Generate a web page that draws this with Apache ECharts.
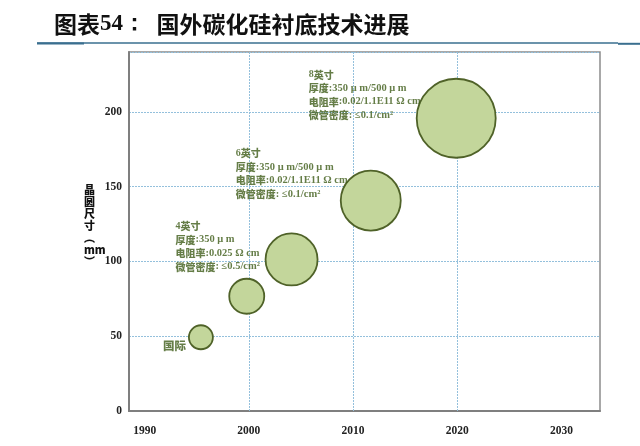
<!DOCTYPE html>
<html>
<head>
<meta charset="utf-8">
<script src="https://cdn.jsdelivr.net/npm/echarts@6/dist/echarts.min.js"></script>
<style>
  html, body { margin: 0; padding: 0; background: #fff; }
  #main { width: 640px; height: 446px; }
</style>
</head>
<body>
<div id="main"></div>
<script>
// 气泡：年份 / 晶圆尺寸(mm) / 气泡直径
var bubbleYears = [1995.4, 1999.8, 2004.1, 2011.7, 2019.9];
var bubbleSizes = [49.3, 76.7, 101.3, 140.7, 195.7];
var bubbleDiam = [24, 35, 52, 60, 79];

var xLabels = [1990, 2000, 2010, 2020, 2030];
var xGridYears = [2000, 2010, 2020];

// 注释文字（年份, 尺寸, 行）
var noteYears = [1993.0, 1998.8, 2005.8];
var noteSizes = [127.7, 176.3, 229];
var noteTitles = ['4英寸', '6英寸', '8英寸'];
var noteThick = [':350 μ m', ':350 μ m/500 μ m', ':350 μ m/500 μ m'];
var noteRes = [':0.025 Ω cm', ':0.02/1.1E11 Ω cm', ':0.02/1.1E11 Ω cm'];
var noteMicro = [': ≤0.5/cm²', ': ≤0.1/cm²', ': ≤0.1/cm²'];

var intlLabel = { year: 1991.8, size: 43.7, text: '国际' };

var GREEN = '#3f5c19';
var GRID_BLUE = '#94c0dc';
var SERIF = '"Liberation Serif", "DejaVu Serif", serif';
var CJK = '"Noto Sans CJK SC", sans-serif';

var bubbleData = [];
for (var i = 0; i < bubbleYears.length; i++) {
	bubbleData.push([bubbleYears[i], bubbleSizes[i], bubbleDiam[i]]);
}

var noteData = [];
for (var j = 0; j < noteYears.length; j++) {
	noteData.push({
		value: [noteYears[j], noteSizes[j]],
		label: {
			formatter: '{t|' + noteTitles[j].charAt(0) + '}{b|' + noteTitles[j].slice(1) + '}\n' +
				'{b|厚度}{v|' + noteThick[j] + '}\n' +
				'{b|电阻率}{v|' + noteRes[j] + '}\n' +
				'{b|微管密度}{v|' + noteMicro[j] + '}'
		}
	});
}

var richStyle = {
	t: { fontFamily: SERIF, fontSize: 10, fontWeight: 'bold', color: GREEN, lineHeight: 13.5 },
	b: { fontFamily: CJK, fontSize: 10, fontWeight: 900, color: GREEN, lineHeight: 13.5 },
	v: { fontFamily: SERIF, fontSize: 10.5, fontWeight: 'bold', color: GREEN, lineHeight: 13.5 }
};

var chart = echarts.init(document.getElementById('main'));

var option = {
	backgroundColor: '#fff',
	animation: false,
	grid: {
		left: 129, right: 40, top: 52, bottom: 35,
		show: true, borderColor: '#8c8c8c', borderWidth: 1.5
	},
	xAxis: {
		type: 'value',
		min: 1988.5,
		max: 2033.7,
		axisLine: { show: true, onZero: false, lineStyle: { color: '#7f7f7f', width: 2 } },
		axisTick: { show: false },
		splitLine: { show: false },
		axisLabel: {
			customValues: xLabels,
			formatter: function (v) { return String(v); },
			margin: 14,
			fontFamily: SERIF, fontWeight: 'bold', fontSize: 11.5, color: '#222'
		}
	},
	yAxis: {
		type: 'value',
		min: 0,
		max: 240,
		interval: 50,
		axisLine: { show: true, lineStyle: { color: '#7f7f7f', width: 2 } },
		axisTick: { show: false },
		axisLabel: {
			margin: 7,
			fontFamily: SERIF, fontWeight: 'bold', fontSize: 11.5, color: '#222',
			formatter: function (v) { return v > 200 ? '' : v; }
		},
		splitLine: { show: true, lineStyle: { color: GRID_BLUE, type: [2, 1], width: 1 } }
	},
	graphic: [
		{
			type: 'text', left: 54, top: 13,
			style: {
				text: '{a|图表}{n|54：}{a|  国外碳化硅衬底技术进展}',
				rich: {
					a: { fontFamily: CJK, fontWeight: 'bold', fontSize: 23, fill: '#111' },
					n: { fontFamily: SERIF, fontWeight: 'bold', fontSize: 23, fill: '#111' }
				}
			}
		},
		{ type: 'line', shape: { x1: 37, y1: 43, x2: 618, y2: 43 }, style: { stroke: '#3a6f8f', lineWidth: 1.3 } },
		{ type: 'line', shape: { x1: 37, y1: 43.5, x2: 84, y2: 43.5 }, style: { stroke: '#3a6f8f', lineWidth: 2 } },
		{ type: 'line', shape: { x1: 618, y1: 43.8, x2: 640, y2: 43.8 }, style: { stroke: '#3a6f8f', lineWidth: 2 } },
		{
			type: 'text', left: 84, top: 184,
			style: {
				text: '晶\n圆\n尺\n寸\n︵\nmm\n︶',
				align: 'center',
				fontFamily: CJK, fontWeight: 900, fontSize: 11, lineHeight: 12, fill: '#111'
			}
		}
	],
	series: [
		{
			type: 'scatter',
			data: bubbleData,
			symbolSize: function (d) { return d[2]; },
			itemStyle: { color: '#c3d69b', borderColor: '#4f6228', borderWidth: 1.8, opacity: 1 },
			markLine: {
				silent: true,
				symbol: 'none',
				label: { show: false },
				lineStyle: { color: GRID_BLUE, type: [2, 1], width: 1, opacity: 1 },
				emphasis: { disabled: true },
				data: xGridYears.map(function (y) { return { xAxis: y }; }),
				z: 1
			},
			z: 3
		},
		{
			type: 'scatter',
			data: noteData,
			symbolSize: 1,
			itemStyle: { color: 'rgba(0,0,0,0)' },
			label: {
				show: true,
				position: [0, 0],
				align: 'left',
				verticalAlign: 'top',
				rich: richStyle
			},
			z: 4
		},
		{
			type: 'scatter',
			data: [{ value: [intlLabel.year, intlLabel.size] }],
			symbolSize: 1,
			itemStyle: { color: 'rgba(0,0,0,0)' },
			label: {
				show: true,
				position: [0, 0],
				align: 'left',
				verticalAlign: 'middle',
				formatter: intlLabel.text,
				fontFamily: CJK, fontWeight: 900, fontSize: 11.5, color: GREEN
			},
			z: 4
		}
	]
};

chart.setOption(option);
</script>
</body>
</html>
